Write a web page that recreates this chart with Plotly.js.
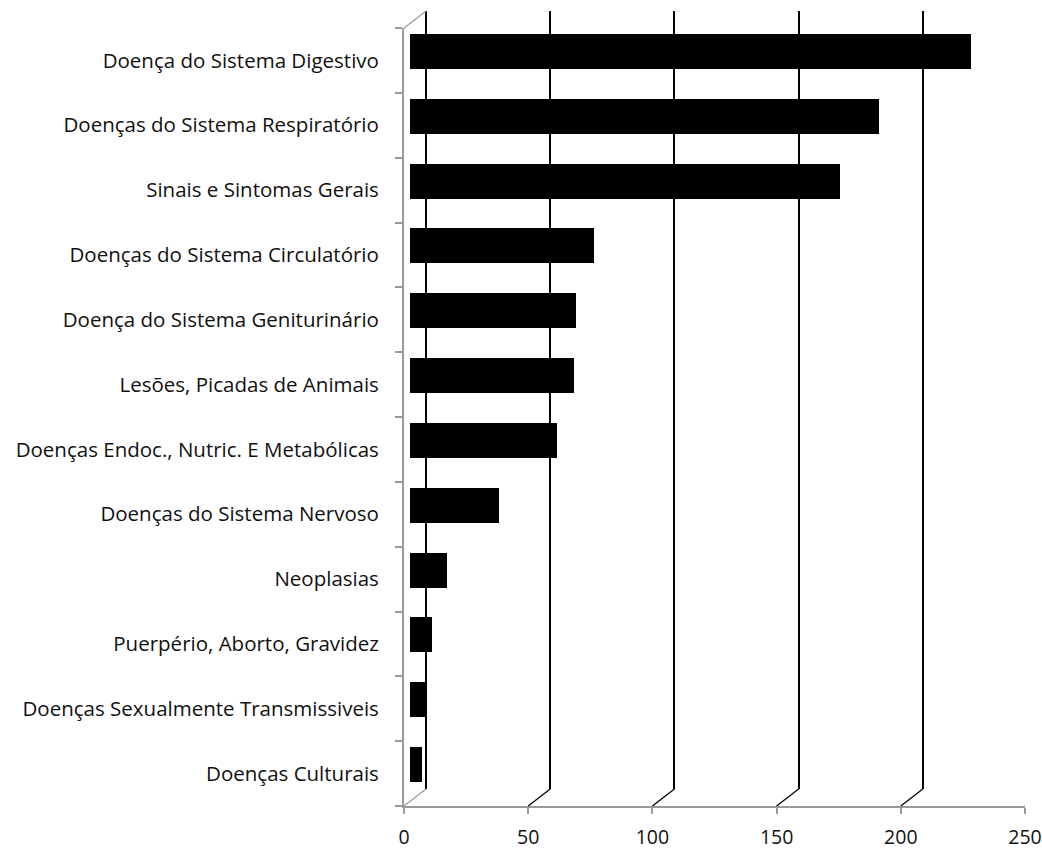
<!DOCTYPE html>
<html>
<head>
<meta charset="utf-8">
<script src="https://cdn.plot.ly/plotly-3.0.1.min.js"></script>
<style>html,body{margin:0;padding:0;background:#fff;}#chart{width:1042px;height:850px;}</style>
</head>
<body>
<div id="chart"></div>
<script>
const categories = [
  "Doença do Sistema Digestivo",
  "Doenças do Sistema Respiratório",
  "Sinais e Sintomas Gerais",
  "Doenças do Sistema Circulatório",
  "Doença do Sistema Geniturinário",
  "Lesões, Picadas de Animais",
  "Doenças Endoc., Nutric. E Metabólicas",
  "Doenças do Sistema Nervoso",
  "Neoplasias",
  "Puerpério, Aborto, Gravidez",
  "Doenças Sexualmente Transmissiveis",
  "Doenças Culturais"
];
const values = [226, 189, 173, 74, 67, 66, 59, 36, 15, 9, 6, 5];
const xTicks = [0, 50, 100, 150, 200, 250];
const xTickLabels = ["0", "50", "100", "150", "200", "250"];

const W = 1042, H = 850;
const FONT = "'Open Sans', 'Noto Sans', sans-serif";
const FSIZE = 20.5;
const XSIZE = 19.5;
const GRAY = "#9a9a9a";
// pixel geometry of the pseudo-3D frame
const frontLeft = 404, frontRight = 1025, frontBottom = 806, frontTop = 28;
const depthX = 22, depthY = 17;
const pxPerUnit = (frontRight - frontLeft) / 250;
const barShiftX = 6, barShiftY = 9;
const fx = p => p / W, fy = p => (H - p) / H;

const traces = [
  {
    type: "bar", orientation: "h",
    y: categories, x: values,
    xaxis: "x2", yaxis: "y2",
    width: 0.54,
    marker: {color: "#000000", line: {width: 0}},
    hoverinfo: "x+y"
  },
  { type: "scatter", x: [], y: [], xaxis: "x3", yaxis: "y3", showlegend: false }
];

const backLeft = frontLeft + depthX;
const backStartVal = -0.5;
const backDomainStart = backLeft + backStartVal * pxPerUnit;
const backRangeEnd = (W - backLeft) / pxPerUnit;

const shapes = [];
// floor diagonals from each front tick to the back wall
xTicks.forEach(v => {
  shapes.push({
    type: "line", xref: "x", yref: "paper",
    xsizemode: "pixel", ysizemode: "pixel",
    xanchor: v, yanchor: fy(frontBottom),
    x0: 0, x1: depthX, y0: 0, y1: depthY,
    line: {color: v === 0 ? GRAY : "#000000", width: 1.3}
  });
});
// top diagonal of the left wall
shapes.push({
  type: "line", xref: "x", yref: "paper",
  xsizemode: "pixel", ysizemode: "pixel",
  xanchor: 0, yanchor: fy(frontTop),
  x0: 0, x1: depthX, y0: 0, y1: depthY,
  line: {color: GRAY, width: 1.3}
});

const layout = {
  width: W, height: H,
  margin: {l: 0, r: 0, t: 0, b: 0},
  paper_bgcolor: "#ffffff", plot_bgcolor: "rgba(0,0,0,0)",
  showlegend: false,
  font: {family: FONT, size: FSIZE, color: "#111111"},
  bargap: 0,
  xaxis: {
    domain: [fx(frontLeft), fx(frontRight)], range: [0, 250],
    anchor: "y",
    tickmode: "array", tickvals: xTicks, ticktext: xTickLabels,
    ticks: "outside", ticklen: 6, tickcolor: GRAY, tickwidth: 2,
    showline: true, linecolor: GRAY, linewidth: 2,
    showgrid: false, zeroline: false,
    ticklabelstandoff: 7,
    ticklabeloverflow: "allow",
    tickfont: {family: FONT, size: XSIZE, color: "#111111"}
  },
  yaxis: {
    domain: [fy(frontBottom), fy(frontTop)],
    anchor: "x",
    type: "category", categoryorder: "array", categoryarray: categories,
    range: [categories.length - 0.5, -0.5],
    tickmode: "array", tickvals: categories,
    ticks: "outside", tickson: "boundaries", ticklen: 7, tickcolor: GRAY, tickwidth: 2,
    showline: true, linecolor: GRAY, linewidth: 2,
    showgrid: false, zeroline: false,
    ticklabelstandoff: 19,
    tickfont: {family: FONT, size: FSIZE, color: "#111111"}
  },
  xaxis2: {
    domain: [fx(frontLeft + barShiftX), fx(frontRight + barShiftX)], range: [0, 250],
    anchor: "y2", visible: false, fixedrange: true
  },
  yaxis2: {
    domain: [fy(frontBottom - barShiftY), fy(frontTop - barShiftY)],
    anchor: "x2", type: "category", categoryorder: "array", categoryarray: categories,
    range: [categories.length - 0.5, -0.5], visible: false, fixedrange: true
  },
  xaxis3: {
    domain: [fx(backDomainStart), 1], range: [backStartVal, backRangeEnd],
    anchor: "y3",
    tickmode: "array", tickvals: xTicks.slice(0, 5),
    showticklabels: false, ticks: "",
    showgrid: true, gridcolor: "#000000", gridwidth: 2,
    zeroline: false, showline: false
  },
  yaxis3: {
    domain: [fy(frontBottom - depthY), fy(frontTop - depthY)],
    anchor: "x3", range: [0, 1],
    showgrid: false, showticklabels: false, ticks: "", zeroline: false, showline: false
  },
  shapes: shapes
};

Plotly.newPlot("chart", traces, layout, {displayModeBar: false, staticPlot: true});
</script>
</body>
</html>
